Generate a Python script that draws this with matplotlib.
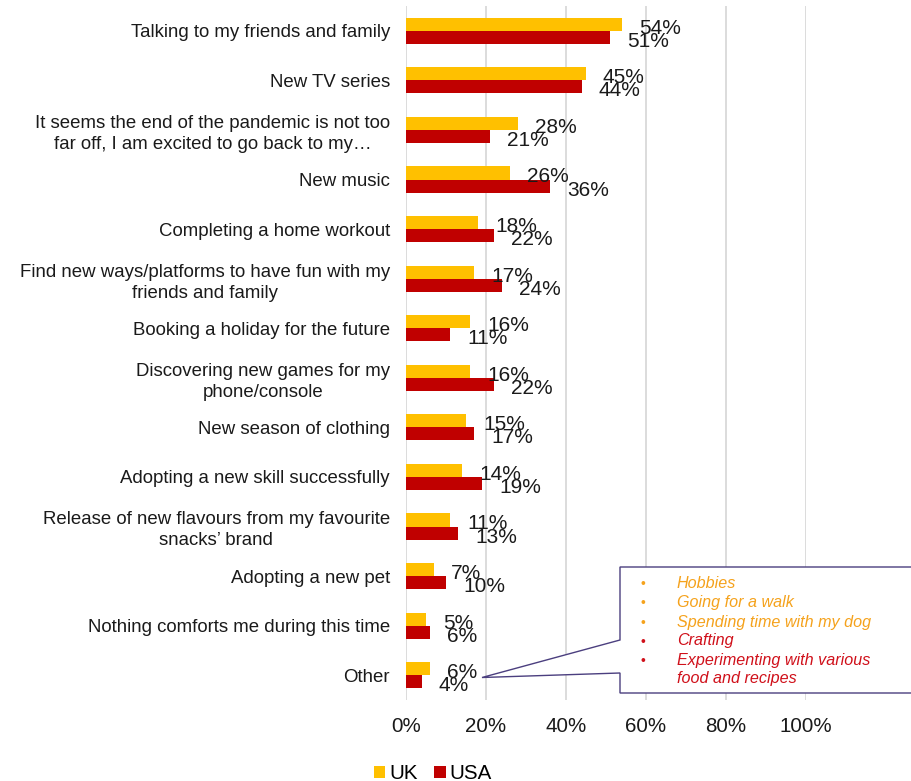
import matplotlib
matplotlib.use("Agg")
import matplotlib.pyplot as plt
from matplotlib.patches import Polygon
import numpy as np

plt.rcParams["font.family"] = ["Liberation Sans", "DejaVu Sans"]

categories = [
    "Talking to my friends and family",
    "New TV series",
    "It seems the end of the pandemic is not too\nfar off, I am excited to go back to my\u2026",
    "New music",
    "Completing a home workout",
    "Find new ways/platforms to have fun with my\nfriends and family",
    "Booking a holiday for the future",
    "Discovering new games for my\nphone/console",
    "New season of clothing",
    "Adopting a new skill successfully",
    "Release of new flavours from my favourite\nsnacks\u2019 brand",
    "Adopting a new pet",
    "Nothing comforts me during this time",
    "Other",
]
uk = [54, 45, 28, 26, 18, 17, 16, 16, 15, 14, 11, 7, 5, 6]
usa = [51, 44, 21, 36, 22, 24, 11, 22, 17, 19, 13, 10, 6, 4]
series_names = ["UK", "USA"]
xticks = [0, 20, 40, 60, 80, 100]

other_items = [
    "Hobbies",
    "Going for a walk",
    "Spending time with my dog",
    "Crafting",
    "Experimenting with various\nfood and recipes",
]
other_groups = ["UK", "UK", "UK", "USA", "USA"]

UK_COLOR = "#FFC000"
USA_COLOR = "#C00000"
UK_TEXT = "#F5A21C"
USA_TEXT = "#D0101A"

W, H = 912, 781
fig = plt.figure(figsize=(W / 100, H / 100), dpi=100)


def fx(px):
    return px / W


def fy(py):
    return 1 - py / H


ax = fig.add_axes([fx(406), fy(700), fx(806) - fx(406), fy(6) - fy(700)])

y = np.arange(len(categories))
bh = 0.265
b1 = ax.barh(y - bh / 2, uk, height=bh, color=UK_COLOR, label=series_names[0], zorder=3)
b2 = ax.barh(y + bh / 2, usa, height=bh, color=USA_COLOR, label=series_names[1], zorder=3)

for bars, vals in ((b1, uk), (b2, usa)):
    for rect, v in zip(bars, vals):
        ax.annotate(f"{v}%", (v, rect.get_y() + rect.get_height() / 2),
                    xytext=(17, -2), textcoords="offset pixels",
                    ha="left", va="center_baseline", fontsize=15, color="#1a1a1a",
                    zorder=5, annotation_clip=False)

ax.set_ylim(len(categories) - 0.5, -0.5)
ax.set_xlim(0, 100)
ax.set_yticks(y)
ax.set_yticklabels(categories, fontsize=13.4, color="#1a1a1a",
                   multialignment="center", linespacing=1.3)
ax.set_xticks(xticks)
ax.set_xticklabels([f"{t}%" for t in xticks], fontsize=14.8, color="#1a1a1a")
ax.tick_params(axis="both", length=0)
ax.tick_params(axis="y", pad=11.5)
ax.tick_params(axis="x", pad=12.5)
for s in ax.spines.values():
    s.set_visible(False)
ax.grid(axis="x", color="#D9D9D9", linewidth=1.3, zorder=0)
ax.set_axisbelow(True)

# Callout listing the "Other" answers
box = Polygon(
    [(fx(620), fy(567)), (fx(930), fy(567)), (fx(930), fy(693)),
     (fx(620), fy(693)), (fx(620), fy(673)), (fx(482), fy(677.5)),
     (fx(620), fy(640))],
    closed=True, transform=fig.transFigure, facecolor="white",
    edgecolor="#4B3F7F", linewidth=1.0, zorder=10, clip_on=False)
fig.patches.append(box)

line_y = [584, 603.5, 623, 642, 661.5]
for item, grp, ly in zip(other_items, other_groups, line_y):
    col = UK_TEXT if grp == "UK" else USA_TEXT
    fig.text(fx(643), fy(ly), "\u2022", color=col, fontsize=10, ha="center",
             va="center", zorder=11)
    fig.text(fx(677), fy(ly - 8.5), item, color=col, fontsize=11.6,
             style="italic", ha="left", va="top", linespacing=1.25, zorder=11)

fig.legend(handles=[b1, b2], labels=series_names, loc="center",
           bbox_to_anchor=(fx(433), fy(773.5)), ncol=2, frameon=False,
           fontsize=14.8, handlelength=0.55, handleheight=0.55,
           handletextpad=0.2, columnspacing=0.8, borderaxespad=0,
           borderpad=0)

fig.savefig("out.png", dpi=100)
